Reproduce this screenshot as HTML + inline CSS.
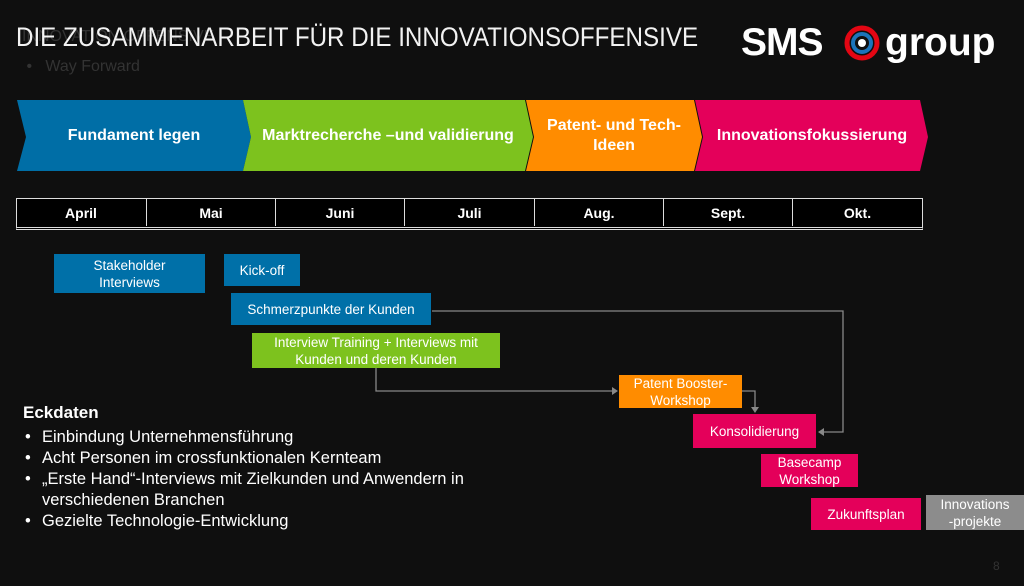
<!DOCTYPE html>
<html><head><meta charset="utf-8"><style>
body{margin:0;width:1024px;height:586px;background:#0f0f0f;overflow:hidden;position:relative;font-family:"Liberation Sans",sans-serif;color:#fff}
.a{position:absolute}
.box{position:absolute;display:flex;align-items:center;justify-content:center;text-align:center;font-size:13.5px;line-height:17px;color:#fff}
.blue{background:#0070a8}.green{background:#7dc21e}.orange{background:#ff8c00}.pink{background:#e4005a}.gray{background:#8c8c8c}
.cell{position:absolute;top:199px;height:27px;border-left:1px solid #ddd;display:flex;align-items:center;justify-content:center;font-size:14px;font-weight:bold}
ul{margin:0;padding:0;list-style:none}
li{position:relative;padding-left:17px;font-size:16.5px;line-height:21px;white-space:nowrap}
li:before{content:"•";position:absolute;left:0}
</style></head><body>
<div class="a" style="left:22px;top:22px;font-size:16px;line-height:30px;color:#333">INNOVATION OFFENSIVE<br>&nbsp;•&nbsp;&nbsp;&nbsp;Way Forward</div>
<div class="a" style="left:16px;top:22px;font-size:27px;color:#f2f2f2;white-space:nowrap;transform:scaleX(0.895);transform-origin:0 0">DIE ZUSAMMENARBEIT FÜR DIE INNOVATIONSOFFENSIVE</div>
<div class="a" style="left:740px;top:21px;width:270px;height:42px;font-weight:bold;font-size:39px;white-space:nowrap">
<span style="position:absolute;left:1px;top:0;letter-spacing:-1px">SMS</span>
<svg style="position:absolute;left:104px;top:4px" width="36" height="36" viewBox="0 0 36 36"><circle cx="18" cy="18" r="15" fill="none" stroke="#e30613" stroke-width="5"/><circle cx="18" cy="18" r="9" fill="none" stroke="#1b74bb" stroke-width="4"/><circle cx="18" cy="18" r="4" fill="#fff"/></svg>
<span style="position:absolute;left:145px;top:0">group</span></div>

<svg class="a" style="left:0;top:0" width="1024" height="586">
<polygon points="17,100 243,100 251,137 243,171 17,171 26,137" fill="#006ea6"/>
<polygon points="243,100 525,100 533,137 525,171 243,171 251,137" fill="#7dc21e"/>
<polygon points="526,100 694,100 702,137 694,171 526,171 534,137" fill="#ff8c00"/>
<polygon points="695,100 920,100 928,137 920,171 695,171 703,137" fill="#e4005a"/>
<g stroke="#888" stroke-width="1.3" fill="none">
<polyline points="432,311 843,311 843,432 822,432"/>
<polyline points="376,368 376,391 612,391"/>
<polyline points="742,391 755,391 755,408"/>
</g>
<g fill="#888"><polygon points="818,432 824,428 824,436"/><polygon points="618,391 612,387 612,395"/><polygon points="755,413 751,407 759,407"/></g>
</svg>
<div class="a" style="left:17px;top:100px;width:234px;height:71px;display:flex;align-items:center;justify-content:center;font-weight:bold;font-size:16px">Fundament legen</div>
<div class="a" style="left:251px;top:100px;width:274px;height:71px;display:flex;align-items:center;justify-content:center;font-weight:bold;font-size:16px">Marktrecherche –und validierung</div>
<div class="a" style="left:532px;top:100px;width:164px;height:71px;display:flex;align-items:center;justify-content:center;text-align:center;font-weight:bold;font-size:16px;line-height:20px">Patent- und Tech-<br>Ideen</div>
<div class="a" style="left:703px;top:100px;width:218px;height:71px;display:flex;align-items:center;justify-content:center;font-weight:bold;font-size:16px">Innovationsfokussierung</div>

<div class="a" style="left:16px;top:198px;width:905px;height:28px;background:#000;border:1px solid #ddd;border-bottom:3px double #ddd"></div>
<div class="cell" style="left:17px;width:128px;border-left:none">April</div>
<div class="cell" style="left:146px;width:128px">Mai</div>
<div class="cell" style="left:275px;width:128px">Juni</div>
<div class="cell" style="left:404px;width:129px">Juli</div>
<div class="cell" style="left:534px;width:128px">Aug.</div>
<div class="cell" style="left:663px;width:128px">Sept.</div>
<div class="cell" style="left:792px;width:129px">Okt.</div>

<div class="box blue" style="left:54px;top:254px;width:151px;height:39px">Stakeholder<br>Interviews</div>
<div class="box blue" style="left:224px;top:254px;width:76px;height:32px">Kick-off</div>
<div class="box blue" style="left:231px;top:293px;width:200px;height:32px">Schmerzpunkte der Kunden</div>
<div class="box green" style="left:252px;top:333px;width:248px;height:35px">Interview Training + Interviews mit<br>Kunden und deren Kunden</div>
<div class="box orange" style="left:619px;top:375px;width:123px;height:33px">Patent Booster-<br>Workshop</div>
<div class="box pink" style="left:693px;top:414px;width:123px;height:34px">Konsolidierung</div>
<div class="box pink" style="left:761px;top:454px;width:97px;height:33px">Basecamp<br>Workshop</div>
<div class="box pink" style="left:811px;top:498px;width:110px;height:32px">Zukunftsplan</div>
<div class="box gray" style="left:926px;top:495px;width:98px;height:35px">Innovations<br>-projekte</div>

<div class="a" style="left:23px;top:403px;font-size:17px;font-weight:bold">Eckdaten</div>
<ul class="a" style="left:25px;top:427px">
<li>Einbindung Unternehmensführung</li>
<li>Acht Personen im crossfunktionalen Kernteam</li>
<li>„Erste Hand“-Interviews mit Zielkunden und Anwendern in<br>verschiedenen Branchen</li>
<li>Gezielte Technologie-Entwicklung</li>
</ul>
<div class="a" style="left:993px;top:559px;font-size:12px;color:#333">8</div>
</body></html>
